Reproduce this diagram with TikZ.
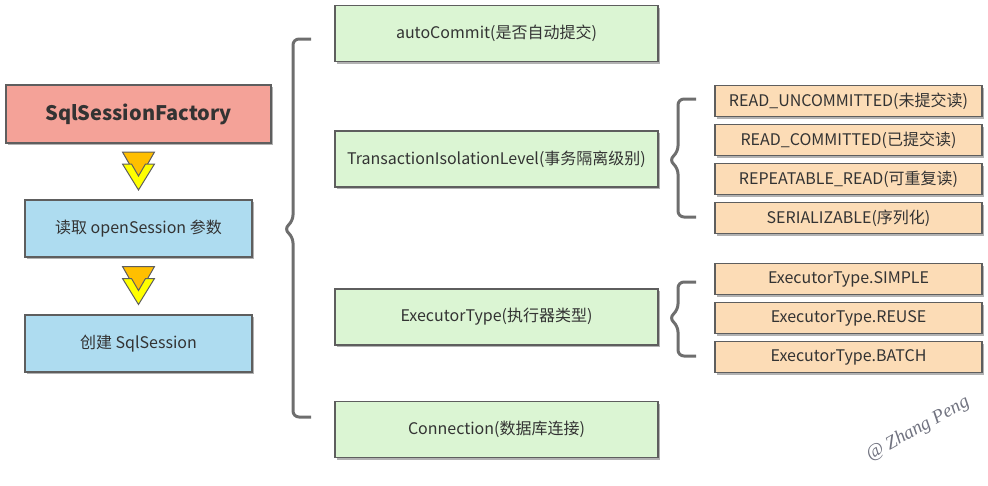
\documentclass[tikz,border=0pt]{standalone}
\usepackage{fontspec}
\setmainfont{Noto Sans CJK SC}
\newfontfamily\sig{Liberation Serif}
\usetikzlibrary{shapes, arrows.meta, positioning, shadows}
\definecolor{edge}{HTML}{5E5E5E}
\definecolor{ink}{HTML}{333333}
\definecolor{salmon}{HTML}{F4A298}
\definecolor{sky}{HTML}{AEDCF0}
\definecolor{mint}{HTML}{DBF5D3}
\definecolor{peach}{HTML}{FCDCB6}
\definecolor{amber}{HTML}{FFBF00}
\definecolor{lemon}{HTML}{FFFF00}
\definecolor{sigc}{HTML}{70727F}
\tikzstyle{block} = [draw=edge, line width=1.5pt, rectangle, text=ink, font=\fontsize{16}{18}\selectfont, drop shadow={shadow xshift=2pt, shadow yshift=-2pt, opacity=.3, fill=black}]
\tikzstyle{factory} = [block, fill=salmon, minimum width=265, minimum height=58, font=\bfseries\fontsize{20}{24}\selectfont]
\tikzstyle{param} = [block, fill=sky, minimum width=227, minimum height=57]
\tikzstyle{opt} = [block, fill=mint, minimum width=323, minimum height=56]
\tikzstyle{lvl} = [block, fill=peach, minimum width=267, minimum height=31]
\tikzstyle{brc} = [draw=edge!90, line width=3pt, rounded corners=6pt]
\newcommand{\chev}[1]{%
  \draw[shift={(#1)}, fill=amber, draw=edge, line width=1pt] (-16,-19) -- (16,-19) -- (0,9) -- cycle;
  \draw[shift={(#1)}, fill=lemon, draw=edge, line width=1pt] (-16,-7) -- (-7,-7) -- (0,5) -- (7,-7) -- (16,-7) -- (0,19) -- cycle;}
\newcommand{\brce}[4]{\draw[brc] (#1+18,#2) -- (#1,#2) -- (#1,#3-8) -- (#1-9,#3) -- (#1,#3+8) -- (#1,#4) -- (#1+18,#4);}

\begin{document}
\begin{tikzpicture}[x=1pt, y=-1pt]
  \useasboundingbox (0,0) rectangle (988,485);
  % left column
  \node[factory] (fac) at (138.5,114) {SqlSessionFactory};
  \node[param, below of=fac, node distance=114.5] (read) {读取 openSession 参数};
  \node[param, below of=read, node distance=115] (make) {创建 SqlSession};
  \coordinate[below of=fac, node distance=57] (a1);
  \coordinate[below of=read, node distance=57] (a2);
  \chev{a1}
  \chev{a2}
  % options
  \node[opt] (auto) at (496.5,33.5) {autoCommit(是否自动提交)};
  \node[opt, below of=auto, node distance=125.5] (iso) {TransactionIsolationLevel(事务隔离级别)};
  \node[opt, below of=iso, node distance=158] (exec) {ExecutorType(执行器类型)};
  \node[opt, below of=exec, node distance=112.5] (conn) {Connection(数据库连接)};
  % isolation levels
  \node[lvl] (ru) at (848.5,101) {READ\_UNCOMMITTED(未提交读)};
  \node[lvl, below of=ru, node distance=39] (rc) {READ\_COMMITTED(已提交读)};
  \node[lvl, below of=rc, node distance=39] (rr) {REPEATABLE\_READ(可重复读)};
  \node[lvl, below of=rr, node distance=39] (se) {SERIALIZABLE(序列化)};
  % executor types
  \node[lvl] (simple) at (848.5,279) {ExecutorType.SIMPLE};
  \node[lvl, below of=simple, node distance=39] (reuse) {ExecutorType.REUSE};
  \node[lvl, below of=reuse, node distance=39] (batch) {ExecutorType.BATCH};
  % braces
  \brce{293}{39}{229}{417}
  \brce{678}{99}{160}{217}
  \brce{678}{282}{318}{356}
  \node[rotate=29, text=sigc, font=\sig\itshape\fontsize{19}{21}\selectfont] (wm) at (918,429) {@ Zhang Peng};
\end{tikzpicture}
\end{document}
